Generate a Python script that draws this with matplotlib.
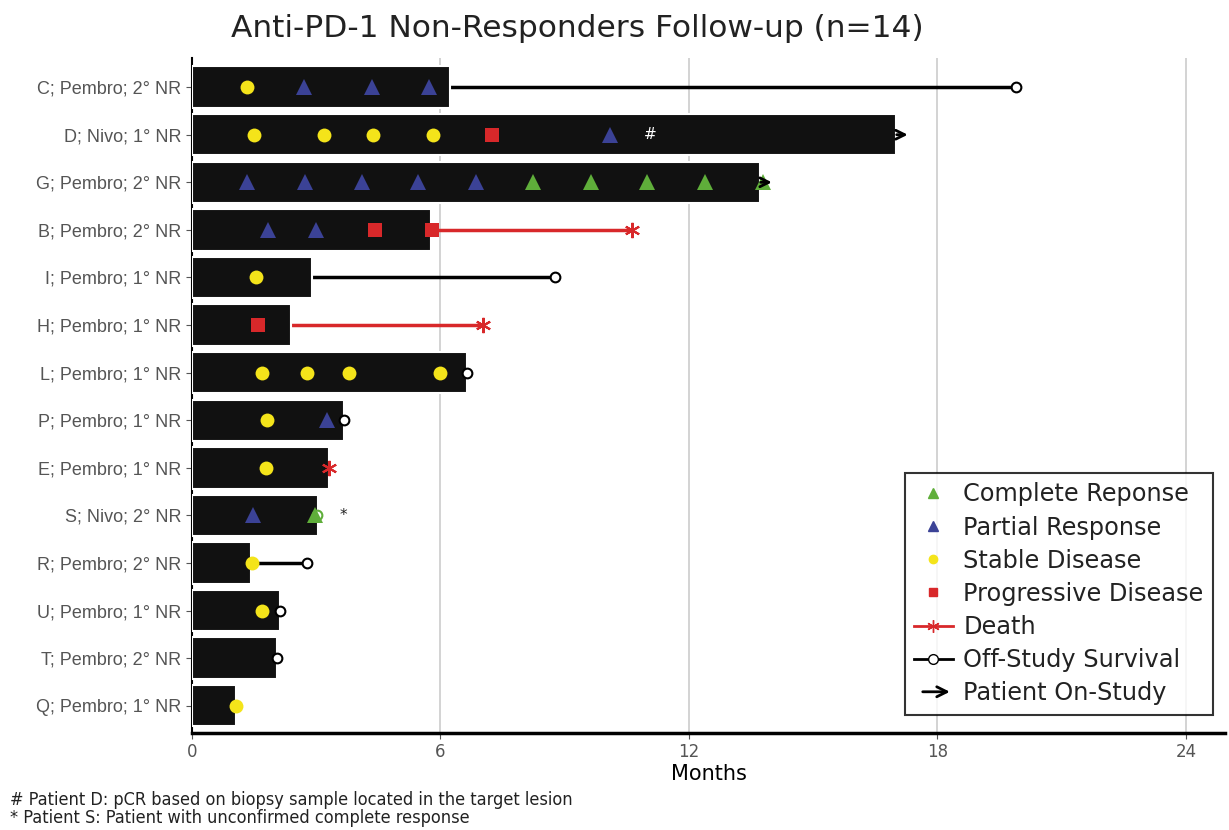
import matplotlib.pyplot as plt
from matplotlib.lines import Line2D
from matplotlib.patches import FancyArrowPatch
from matplotlib.legend_handler import HandlerBase

# Patients, top to bottom
patients = [
    "C; Pembro; 2° NR", "D; Nivo; 1° NR", "G; Pembro; 2° NR", "B; Pembro; 2° NR",
    "I; Pembro; 1° NR", "H; Pembro; 1° NR", "L; Pembro; 1° NR", "P; Pembro; 1° NR",
    "E; Pembro; 1° NR", "S; Nivo; 2° NR", "R; Pembro; 2° NR", "U; Pembro; 1° NR",
    "T; Pembro; 2° NR", "Q; Pembro; 1° NR",
]
# months on treatment (bar length)
treatment = [6.23, 17.0, 13.72, 5.77, 2.9, 2.39, 6.64, 3.67, 3.31, 3.04, 1.43, 2.13, 2.05, 1.06]

# response assessments (months)
complete_resp = {"G": [8.24, 9.64, 11.0, 12.4, 13.8], "S": [2.97]}
partial_resp = {"C": [2.7, 4.35, 5.72], "D": [10.1], "G": [1.33, 2.73, 4.1, 5.46, 6.86],
                "B": [1.84, 3.0], "P": [3.26], "S": [1.47]}
stable_dis = {"C": [1.33], "D": [1.5, 3.2, 4.37, 5.82], "I": [1.55], "L": [1.69, 2.78, 3.79, 5.99],
              "P": [1.81], "E": [1.79], "R": [1.45], "U": [1.69], "Q": [1.06]}
progressive = {"D": [7.25], "B": [4.42, 5.8], "H": [1.6]}

# end of follow-up
death = {"B": 10.63, "H": 7.03, "E": 3.31}
off_study = {"C": 19.9, "I": 8.77, "L": 6.64, "P": 3.67, "R": 2.78, "U": 2.13, "T": 2.05}
on_study = ["D", "G"]

BAR = "#111111"
GREEN = "#5fae3a"
BLUE = "#3b4296"
YELLOW = "#f4e41a"
RED = "#d8282a"
GREY = "#555555"


class ArrowHandler(HandlerBase):
    def create_artists(self, legend, orig_handle, xdescent, ydescent, width, height, fontsize, trans):
        y = height / 2 - ydescent
        arr = FancyArrowPatch((-xdescent + 0.15 * width, y), (-xdescent + width, y),
                              arrowstyle="->", mutation_scale=18, lw=2, color="black",
                              transform=trans)
        return [arr]


keys = [p.split(";")[0] for p in patients]
ypos = {k: len(keys) - 1 - i for i, k in enumerate(keys)}

fig = plt.figure(figsize=(12.29, 8.30), dpi=100)
ax = fig.add_axes([0.156, 0.117, 0.841, 0.813])

for k, t in zip(keys, treatment):
    y = ypos[k]
    ax.barh(y, t, height=0.87, color=BAR, edgecolor="white", linewidth=1.5, zorder=3)
    if k in off_study:
        ax.plot([t, off_study[k]], [y, y], color="black", lw=2.5, zorder=2)
        ax.plot(off_study[k], y, "o", ms=7, mfc="white", mec="black", mew=1.5, zorder=6)
    if k in death:
        if death[k] > t:
            ax.plot([t, death[k]], [y, y], color=RED, lw=2.5, zorder=2)
        ax.plot(death[k], y, marker=(6, 2, 0), ms=11, color=RED, mew=1.5, zorder=6)
    if k in on_study:
        ax.annotate("", xy=(t + 0.35, y), xytext=(t - 0.05, y),
                    arrowprops=dict(arrowstyle="->", color="black", lw=2,
                                    mutation_scale=16), zorder=6)

for data, mk, col, ms in [(stable_dis, "o", YELLOW, 10), (progressive, "s", RED, 10),
                          (partial_resp, "^", BLUE, 12), (complete_resp, "^", GREEN, 12)]:
    for k, xs in data.items():
        ax.plot(xs, [ypos[k]] * len(xs), mk, color=col, ms=ms, mew=0, ls="none", zorder=5)

# unconfirmed CR circle for patient S
ax.plot(complete_resp["S"][0] + 0.05, ypos["S"], "o", ms=7, mfc="none", mec=GREEN, mew=1.5, zorder=6)

ax.text(11.06, ypos["D"], "#", color="white", ha="center", va="center", fontsize=11, zorder=7)
ax.text(3.67, ypos["S"], "*", color="#222222", ha="center", va="center", fontsize=11, zorder=7)

ax.set_xlim(0, 24.95)
ax.set_ylim(-0.57, len(keys) - 1 + 0.61)
ax.set_xticks([0, 6, 12, 18, 24])
ax.set_yticks([ypos[k] for k in keys])
ax.set_yticklabels(patients, fontsize=13, color=GREY, family="Liberation Sans")
ax.tick_params(axis="x", labelsize=12, colors=GREY, length=4)
ax.tick_params(axis="y", length=4, color=GREY)
ax.grid(axis="x", color="#cccccc", lw=1.2, zorder=0)
for s in ["top", "right"]:
    ax.spines[s].set_visible(False)
ax.spines["left"].set_linewidth(1.5)
ax.spines["bottom"].set_linewidth(2.5)

ax.set_xlabel("Months", fontsize=15, family=["Liberation Sans Narrow", "DejaVu Sans"], labelpad=2)
fig.text(0.47, 0.966, "Anti-PD-1 Non-Responders Follow-up (n=14)", fontsize=22.5,
         color="#222222", ha="center", va="center")

handles = [
    Line2D([], [], marker="^", color=GREEN, ls="none", ms=7),
    Line2D([], [], marker="^", color=BLUE, ls="none", ms=7),
    Line2D([], [], marker="o", color=YELLOW, ls="none", ms=6),
    Line2D([], [], marker="s", color=RED, ls="none", ms=6),
    Line2D([0, 1], [0, 0], marker=(6, 2, 0), markevery=[1], color=RED, lw=2, ms=9),
    Line2D([0, 1], [0, 0], marker="o", markevery=[1], color="black", lw=2, ms=7, mfc="white"),
    FancyArrowPatch((0, 0), (1, 0)),
]
labels = ["Complete Reponse", "Partial Response", "Stable Disease", "Progressive Disease",
          "Death", "Off-Study Survival", "Patient On-Study"]
leg = ax.legend(handles, labels, loc="lower right", bbox_to_anchor=(1.0, 0.009), fontsize=17.3,
                frameon=True, fancybox=False, edgecolor="black", handlelength=1.6,
                handletextpad=0.45, labelspacing=0.38, borderpad=0.4,
                handler_map={FancyArrowPatch: ArrowHandler()})
leg.get_frame().set_linewidth(1.5)
for txt in leg.get_texts():
    txt.set_color("#222222")

foot = ["# Patient D: pCR based on biopsy sample located in the target lesion",
        "* Patient S: Patient with unconfirmed complete response"]
for i, line in enumerate(foot):
    fig.text(0.008, 0.0361 - i * 0.0216, line, fontsize=13, color="#222222", va="center",
             family="DejaVu Sans", stretch="condensed")

fig.savefig("out.png", dpi=100)
